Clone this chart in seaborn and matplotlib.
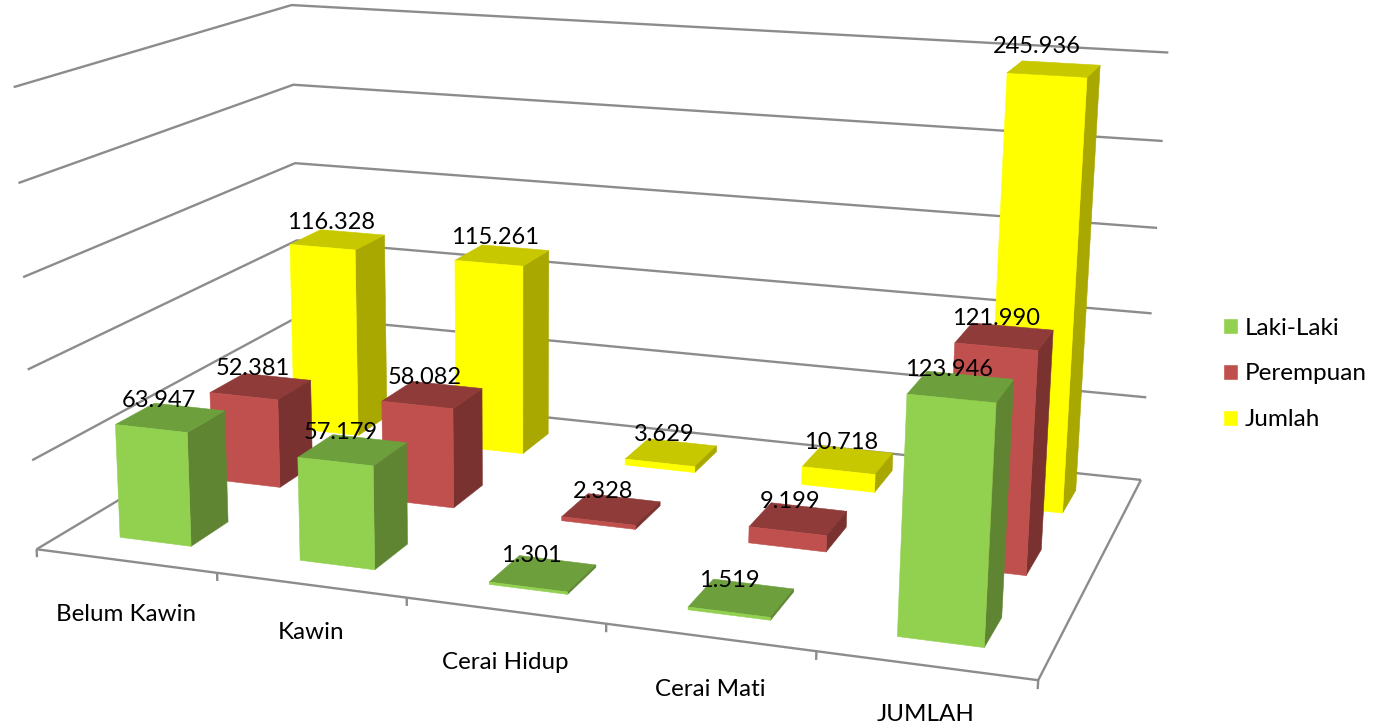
#!/usr/bin/env python3
from matplotlib import pyplot as plt
from matplotlib.patches import Patch
from matplotlib.transforms import offset_copy
from mpl_toolkits.mplot3d.art3d import Line3DCollection
import numpy as np
import seaborn as sns

categories = ['Belum Kawin', 'Kawin', 'Cerai Hidup', 'Cerai Mati', 'JUMLAH']
series = ['Laki-Laki', 'Perempuan', 'Jumlah']
laki = [63947, 57179, 1301, 1519, 123946]
perempuan = [52381, 58082, 2328, 9199, 121990]
jumlah = [116328, 115261, 3629, 10718, 245936]
grid_values = [0, 50000, 100000, 150000, 200000, 250000]

# front, side, top
shades = [
    ('#92D050', '#5F8533', '#6D9F3C'),
    ('#C0504D', '#7A3230', '#8F3B39'),
    ('#FFFF00', '#A8A800', '#C8C800'),
]

W, H = 1381, 728
sns.set_theme(style='white')
plt.rcParams['font.family'] = ['Lato', 'DejaVu Sans']

fig = plt.figure(figsize=(W / 100, H / 100), dpi=100)
ax = fig.add_axes([0, (1 - W / H) / 2, 1, W / H], projection='3d')
ax.computed_zorder = False
ax.set_axis_off()

# excel's camera, solved from where chart box and bar corners land on the picture
zs = 1 / 50000
box = [
    (0, 0, 0, 38, 549), (5, 0, 0, 1038, 681), (5, 3, 0, 1142, 480), (0, 3, 0, 295, 391),
    (0, 0, 250000, 10, 87), (0, 3, 250000, 295, 5), (5, 3, 250000, 1167, 52),
    (1, 0, 0, 217, 573), (0, 0, 50000, 32, 460), (0, 0, 100000, 27, 370),
    (0.3, 0.3, 0, 122, 537), (0.7, 0.3, 0, 192, 546), (4.3, 0.3, 0, 897, 637),
    (4.7, 0.3, 0, 984, 647), (4.7, 2.3, 0, 1063, 513), (0.3, 2.3, 116328, 292, 246),
    (1.7, 2.3, 115261, 523, 266), (0.3, 0.3, 63947, 116, 424),
]
ax.apply_aspect()
rows = []
for bx, by, bz, px, py in box:
    u, v = ax.transData.inverted().transform((px, H - py))
    p = [bx, by, bz * zs, 1]
    rows.append(p + [0, 0, 0, 0] + [-u * c for c in p])
    rows.append([0, 0, 0, 0] + p + [-v * c for c in p])
cam = np.linalg.svd(np.array(rows))[2][-1].reshape(3, 4)
cam[:, 2] *= zs
cam = cam / cam[2, 3]
M = np.vstack([cam[0], cam[1], cam[2] - np.array([0, 0, 0, 0.5]), cam[2]])
ax.get_proj = lambda: M

segments = []
for g in grid_values:
    segments.append([(0, 0, g), (0, 3, g), (5, 3, g)])
segments.append([(0, 0, 0), (5, 0, 0), (5, 3, 0)])
for i in range(len(categories) + 1):
    segments.append([(i, 0, 0), (i, 0, -4500)])
ax.add_collection3d(Line3DCollection(segments, colors='#8C8C8C', linewidths=1.7, zorder=1.5), autolim=False)

bar_w = 0.4
label_dx = [-12, -8, -7]
label_dy = 7
nudge = {(2, 4): (-10, -5)}
order = 2
for s in [2, 1, 0]:
    vals = [laki, perempuan, jumlah][s]
    front, side, top = shades[s]
    clear = (0, 0, 0, 0)
    # bottom, top, front, back, left, right
    faces = [clear, top, front, clear, clear, side]
    for c, v in enumerate(vals):
        ax.bar3d(c + 0.5 - bar_w / 2, s + 0.5 - bar_w / 2, 0, bar_w, bar_w, v,
                 color=faces, edgecolor=faces, linewidth=0.4, shade=False, zorder=order)
        order += 1
        nx, ny = nudge.get((s, c), (0, 0))
        shift = offset_copy(ax.transData, fig=fig, x=label_dx[s] + nx, y=label_dy - ny, units='dots')
        ax.text(c + 0.5, s + 0.5, v, f'{v / 1000:.3f}', fontsize=17, color='black',
                ha='center', va='bottom', zorder=100, transform=shift)

cat_drop = [54, 47, 52, 52, 49]
for c, name in enumerate(categories):
    shift = offset_copy(ax.transData, fig=fig, y=-cat_drop[c], units='dots')
    ax.text(c + 0.5, 0, 0, name, fontsize=17.4, color='black', ha='center', va='center',
            zorder=100, transform=shift)

handles = [Patch(facecolor=shades[i][0], label=series[i]) for i in range(3)]
fig.legend(handles=handles, loc='center left', bbox_to_anchor=(1223 / W, 1 - 374 / H), frameon=False,
           fontsize=17.5, labelcolor='black', handlelength=0.62, handleheight=0.62, handletextpad=0.29,
           labelspacing=1.02, borderpad=0, borderaxespad=0)

fig.savefig('out.png', dpi=100)
